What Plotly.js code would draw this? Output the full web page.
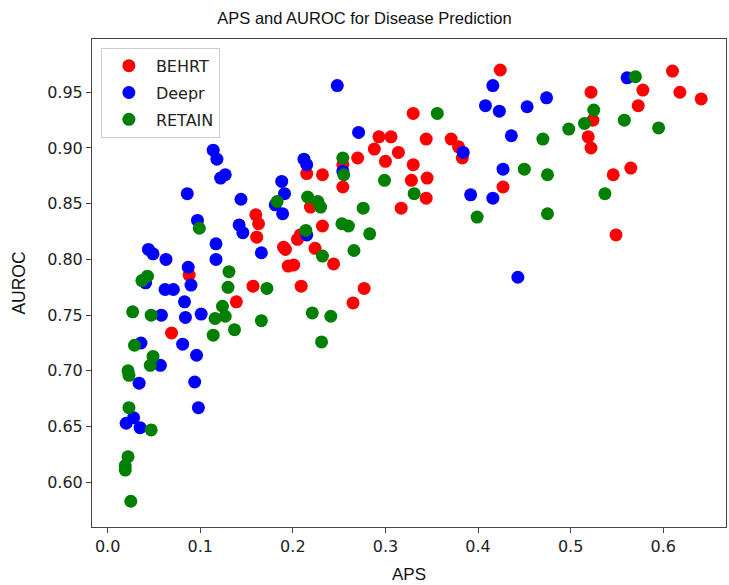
<!DOCTYPE html>
<html>
<head>
<meta charset="utf-8">
<script src="https://cdn.plot.ly/plotly-3.0.1.min.js"></script>
<style>html,body{margin:0;padding:0;background:#fff;}#chart{width:729px;height:585px;}</style>
</head>
<body>
<div id="chart"></div>
<script>
const seriesNames = ["BEHRT", "Deepr", "RETAIN"];
const seriesColors = ["#ff0000", "#0000ff", "#008000"];

const behrtAPS = [0.215,0.160,0.163,0.161,0.190,0.192,0.205,0.208,0.195,0.201,0.088,0.157,0.209,0.139,0.069,0.219,0.224,0.232,0.244,0.277,0.265,0.317,0.344,0.328,0.345,0.254,0.254,0.232,0.270,0.300,0.288,0.314,0.293,0.306,0.330,0.344,0.330,0.371,0.379,0.383,0.424,0.427,0.522,0.524,0.519,0.522,0.578,0.573,0.565,0.546,0.549,0.610,0.618,0.641];
const behrtAUROC = [0.877,0.840,0.832,0.820,0.811,0.809,0.818,0.822,0.794,0.795,0.786,0.776,0.776,0.762,0.734,0.847,0.810,0.830,0.796,0.774,0.761,0.846,0.855,0.871,0.873,0.885,0.865,0.876,0.891,0.888,0.899,0.896,0.910,0.910,0.931,0.908,0.885,0.908,0.901,0.891,0.970,0.865,0.950,0.925,0.910,0.900,0.952,0.938,0.882,0.876,0.822,0.969,0.950,0.944];

const deeprAPS = [0.114,0.118,0.122,0.127,0.086,0.144,0.188,0.191,0.212,0.215,0.181,0.189,0.097,0.142,0.146,0.117,0.166,0.215,0.044,0.049,0.063,0.117,0.087,0.041,0.090,0.062,0.071,0.083,0.101,0.084,0.058,0.081,0.036,0.096,0.057,0.034,0.094,0.098,0.028,0.020,0.035,0.248,0.271,0.384,0.254,0.392,0.416,0.427,0.416,0.408,0.423,0.436,0.453,0.474,0.561,0.443];
const deeprAUROC = [0.898,0.890,0.873,0.876,0.859,0.854,0.870,0.859,0.890,0.885,0.849,0.841,0.835,0.831,0.824,0.814,0.806,0.822,0.809,0.805,0.800,0.800,0.793,0.779,0.777,0.773,0.773,0.762,0.751,0.748,0.750,0.724,0.725,0.714,0.705,0.689,0.690,0.667,0.658,0.653,0.649,0.956,0.914,0.896,0.879,0.858,0.855,0.881,0.956,0.938,0.933,0.911,0.937,0.945,0.963,0.784];

const retainAPS = [0.216,0.183,0.099,0.214,0.131,0.043,0.037,0.130,0.172,0.124,0.027,0.047,0.116,0.127,0.166,0.137,0.114,0.029,0.049,0.046,0.022,0.023,0.023,0.047,0.022,0.019,0.019,0.025,0.221,0.241,0.231,0.254,0.255,0.299,0.331,0.356,0.227,0.230,0.276,0.253,0.260,0.283,0.266,0.232,0.399,0.450,0.475,0.475,0.537,0.470,0.498,0.515,0.525,0.558,0.595,0.570];
const retainAUROC = [0.856,0.852,0.828,0.826,0.789,0.785,0.781,0.775,0.774,0.758,0.753,0.750,0.747,0.749,0.745,0.737,0.732,0.723,0.713,0.705,0.700,0.696,0.667,0.647,0.623,0.615,0.611,0.583,0.752,0.749,0.726,0.891,0.876,0.871,0.859,0.931,0.852,0.847,0.846,0.832,0.830,0.823,0.808,0.803,0.838,0.881,0.876,0.841,0.859,0.908,0.917,0.922,0.934,0.925,0.918,0.964];

const xTicks = [0.0, 0.1, 0.2, 0.3, 0.4, 0.5, 0.6];
const yTicks = [0.60, 0.65, 0.70, 0.75, 0.80, 0.85, 0.90, 0.95];

const xs = [behrtAPS, deeprAPS, retainAPS];
const ys = [behrtAUROC, deeprAUROC, retainAUROC];

const font = "DejaVu Sans, sans-serif";
const titleFont = "Liberation Sans, Arial, sans-serif";

const traces = seriesNames.map((n, i) => ({
  type: "scatter", mode: "markers", name: n, legendgroup: n,
  x: xs[i], y: ys[i],
  marker: {color: seriesColors[i], size: 13, line: {width: 0}}
}));

const layout = {
  width: 729, height: 585,
  margin: {l: 92, r: 3, t: 39, b: 58},
  paper_bgcolor: "#fff", plot_bgcolor: "#fff",
  font: {family: font, color: "#222", size: 16},
  title: {text: "APS and AUROC for Disease Prediction", x: 0.5, xref: "container", y: 0.969, yref: "container", yanchor: "middle", font: {size: 16.5, family: titleFont, color: "#111"}},
  xaxis: {
    range: [-0.0169, 0.6678], tickvals: xTicks, tickformat: ".1f",
    showgrid: false, zeroline: false, showline: true, mirror: true, linecolor: "#444", linewidth: 1,
    ticks: "outside", ticklen: 5, tickcolor: "#444", tickfont: {size: 16},
    title: {text: "APS", font: {size: 17, family: titleFont, color: "#111"}, standoff: 12}
  },
  yaxis: {
    range: [0.5599, 0.9978], tickvals: yTicks, tickformat: ".2f",
    showgrid: false, zeroline: false, showline: true, mirror: true, linecolor: "#444", linewidth: 1,
    ticks: "outside", ticklen: 5, tickcolor: "#444", tickfont: {size: 16},
    title: {text: "AUROC", font: {size: 17.5, family: titleFont, color: "#111"}, standoff: 17}
  },
  showlegend: true,
  legend: {
    x: 0.014, y: 0.982, xanchor: "left", yanchor: "top",
    bgcolor: "rgba(255,255,255,0.85)", bordercolor: "#cccccc", borderwidth: 1,
    font: {size: 16}, traceorder: "grouped", tracegroupgap: 3, itemwidth: 44
  }
};

Plotly.newPlot("chart", traces, layout, {displayModeBar: false, staticPlot: true});
</script>
</body>
</html>
